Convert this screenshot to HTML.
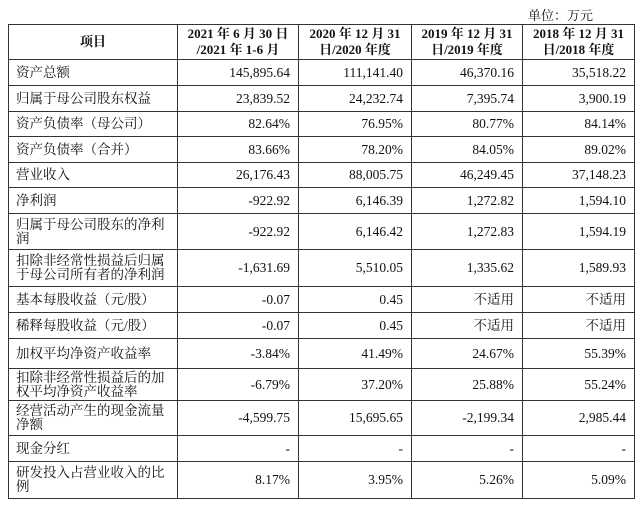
<!DOCTYPE html>
<html><head><meta charset="utf-8">
<style>
html,body{margin:0;padding:0;background:#fff;}
body{width:640px;height:505px;position:relative;overflow:hidden;font-family:"Liberation Serif","Noto Serif CJK SC",serif;color:#111;}
#unit{position:absolute;right:47px;top:5px;font-size:13px;}
table{position:absolute;left:8px;top:24px;border-collapse:collapse;table-layout:fixed;width:626px;}
td{border:1.5px solid #333;font-size:13.5px;padding:0 8px;line-height:14px;overflow:hidden;}
td.n{text-align:right;}
td.l{text-align:left;padding-left:7px;padding-right:0;}
tr.h td{font-weight:bold;text-align:center;font-size:13px;line-height:16px;padding:0;white-space:nowrap;}
</style></head><body>
<div id="unit">单位：万元</div>
<table>
<colgroup><col style="width:169px"><col style="width:121px"><col style="width:113px"><col style="width:111px"><col style="width:112px"></colgroup>
<tr class="h" style="height:35px"><td>项目</td><td>2021 年 6 月 30 日<br>/2021 年 1-6 月</td><td>2020 年 12 月 31<br>日/2020 年度</td><td>2019 年 12 月 31<br>日/2019 年度</td><td>2018 年 12 月 31<br>日/2018 年度</td></tr>
<tr style="height:26px"><td class="l">资产总额</td><td class="n">145,895.64</td><td class="n">111,141.40</td><td class="n">46,370.16</td><td class="n">35,518.22</td></tr>
<tr style="height:26px"><td class="l">归属于母公司股东权益</td><td class="n">23,839.52</td><td class="n">24,232.74</td><td class="n">7,395.74</td><td class="n">3,900.19</td></tr>
<tr style="height:25px"><td class="l">资产负债率（母公司）</td><td class="n">82.64%</td><td class="n">76.95%</td><td class="n">80.77%</td><td class="n">84.14%</td></tr>
<tr style="height:26px"><td class="l">资产负债率（合并）</td><td class="n">83.66%</td><td class="n">78.20%</td><td class="n">84.05%</td><td class="n">89.02%</td></tr>
<tr style="height:25px"><td class="l">营业收入</td><td class="n">26,176.43</td><td class="n">88,005.75</td><td class="n">46,249.45</td><td class="n">37,148.23</td></tr>
<tr style="height:26px"><td class="l">净利润</td><td class="n">-922.92</td><td class="n">6,146.39</td><td class="n">1,272.82</td><td class="n">1,594.10</td></tr>
<tr style="height:36px"><td class="l">归属于母公司股东的净利<br>润</td><td class="n">-922.92</td><td class="n">6,146.42</td><td class="n">1,272.83</td><td class="n">1,594.19</td></tr>
<tr style="height:37px"><td class="l">扣除非经常性损益后归属<br>于母公司所有者的净利润</td><td class="n">-1,631.69</td><td class="n">5,510.05</td><td class="n">1,335.62</td><td class="n">1,589.93</td></tr>
<tr style="height:26px"><td class="l">基本每股收益（元/股）</td><td class="n">-0.07</td><td class="n">0.45</td><td class="n">不适用</td><td class="n">不适用</td></tr>
<tr style="height:26px"><td class="l">稀释每股收益（元/股）</td><td class="n">-0.07</td><td class="n">0.45</td><td class="n">不适用</td><td class="n">不适用</td></tr>
<tr style="height:30px"><td class="l">加权平均净资产收益率</td><td class="n">-3.84%</td><td class="n">41.49%</td><td class="n">24.67%</td><td class="n">55.39%</td></tr>
<tr style="height:32px"><td class="l">扣除非经常性损益后的加<br>权平均净资产收益率</td><td class="n">-6.79%</td><td class="n">37.20%</td><td class="n">25.88%</td><td class="n">55.24%</td></tr>
<tr style="height:35px"><td class="l">经营活动产生的现金流量<br>净额</td><td class="n">-4,599.75</td><td class="n">15,695.65</td><td class="n">-2,199.34</td><td class="n">2,985.44</td></tr>
<tr style="height:26px"><td class="l">现金分红</td><td class="n">-</td><td class="n">-</td><td class="n">-</td><td class="n">-</td></tr>
<tr style="height:37px"><td class="l">研发投入占营业收入的比<br>例</td><td class="n">8.17%</td><td class="n">3.95%</td><td class="n">5.26%</td><td class="n">5.09%</td></tr>
</table>
</body></html>
